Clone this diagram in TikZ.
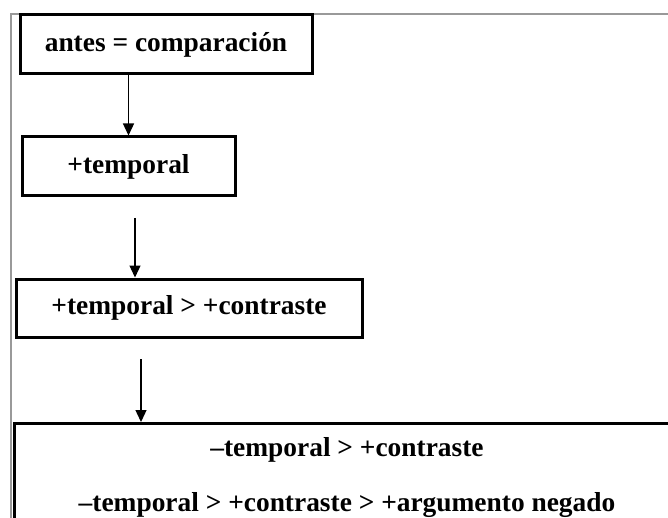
\documentclass[tikz,border=0pt]{standalone}
\usepackage{fontspec}
\setmainfont{Liberation Serif}
\usetikzlibrary{positioning,arrows.meta}

\begin{document}
\begin{tikzpicture}[x=1pt,y=-1pt,
  box/.style={draw=black,line width=3pt,inner sep=0pt,
    font=\fontsize{27.4}{55}\selectfont\bfseries},
  arr/.style={line width=1.3pt,-{Triangle[width=11pt,length=12pt]}}]
\useasboundingbox (0,0) rectangle (668,518);
% gray frame
\draw [gray!80,line width=1.5pt] (11,518) -- (11,14) -- (668,14);
% boxes
\node [box,minimum width=292pt,minimum height=59pt] (cmp) at (166,44.5) {antes = comparación};
\node [box,minimum width=213pt,minimum height=59pt] (tmp) at (128.5,166.5) {+temporal};
\node [box,minimum width=346pt,minimum height=58pt] (tcon) at (189,308) {+temporal > +contraste};
\node [box,anchor=north,align=center,minimum width=666pt,minimum height=108pt] (neg) at (347,422)
  {–temporal > +contraste\\–temporal > +contraste > +argumento negado};
% arrows
\coordinate (a2) at (135,218);
\coordinate (a3) at (141,359);
\draw [arr] (cmp.south -| tmp.north) -- (tmp.north);
\draw [arr] (a2) -- (a2 |- tcon.north);
\draw [arr] (a3) -- (a3 |- neg.north);
\end{tikzpicture}
\end{document}
